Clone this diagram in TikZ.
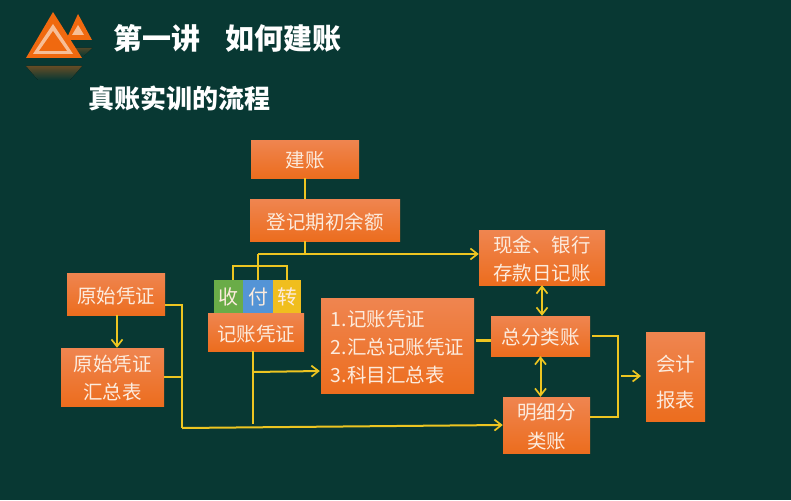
\documentclass[tikz,border=0pt]{standalone}
\usepackage{fontspec}
\setmainfont{Noto Sans CJK SC}
\usetikzlibrary{arrows.meta,calc}
\definecolor{bgc}{HTML}{083833}
\definecolor{boxtop}{HTML}{EF8550}
\definecolor{boxbot}{HTML}{EC6D1E}
\definecolor{lnc}{HTML}{EDC521}
\definecolor{txtc}{HTML}{FCEBDD}
\definecolor{logoc}{HTML}{F0690F}
\definecolor{logol}{HTML}{F7BE96}
\newcommand{\strutup}[1]{\rule{0pt}{#1pt}}
\tikzset{
 box/.style={top color=boxtop,bottom color=boxbot,text=txtc,inner sep=0pt,font=\fontsize{19.5}{28.5}\selectfont,align=center},
 tab/.style={inner sep=0pt,text=txtc,font=\fontsize{20}{24}\selectfont,minimum height=33pt},
 ln/.style={draw=lnc,line width=2pt},
 arr/.style={ln,-{Straight Barb[length=7pt,width=11pt,line width=1.7pt]}},
 dbl/.style={ln,{Straight Barb[length=7pt,width=11pt,line width=1.7pt]}-{Straight Barb[length=7pt,width=11pt,line width=1.7pt]}},
 ttl/.style={text=white,inner sep=0pt,anchor=west}
}
\begin{document}
\begin{tikzpicture}[x=1pt,y=-1pt]
\fill[bgc] (0,0) rectangle (791,500);
\useasboundingbox (0,0) rectangle (791,500);
% logo
\fill[top color=logoc!40!bgc,bottom color=bgc] (26,66) -- (82,66) -- (70,80) -- (38,80) -- cycle;
\fill[top color=logoc!30!bgc,bottom color=bgc] (74,48) -- (92,48) -- (84,56) -- (78,56) -- cycle;
\fill[logoc] (78,14) -- (92,40) -- (66,40) -- cycle;
\fill[logol] (78,25) -- (84,35) -- (72,35) -- cycle;
\fill[logoc] (53,12) -- (82,58) -- (26,58) -- cycle;
\fill[logol] (53,24) -- (73,54) -- (33,54) -- cycle;
\fill[logoc] (53,31) -- (67,51) -- (39,51) -- cycle;
% titles
\node[ttl,font=\fontsize{29}{29}\selectfont\bfseries] (t1) at (113,38) {第一讲};
\node[ttl,font=\fontsize{29}{29}\selectfont\bfseries] (t2) at (225,38) {如何建账};
\node[ttl,font=\fontsize{26}{26}\selectfont\bfseries] (t3) at (88,98) {真账实训的流程};
% boxes
\node[box,minimum width=108pt,minimum height=38pt] (jz) at (305,159) {\strutup{19}建账};
\node[box,minimum width=150pt,minimum height=42pt] (dj) at (325,220) {\strutup{21}登记期初余额};
\node[box,minimum width=126pt,minimum height=55pt] (xj) at (542,257.5) {\strutup{20}现金、银行\\存款日记账};
\node[box,minimum width=98pt,minimum height=42pt] (ys) at (116,294) {\strutup{20}原始凭证};
\node[box,minimum width=103pt,minimum height=58pt] (hz) at (112.5,377) {\strutup{19}原始凭证\\汇总表};
\node[tab,fill={rgb,255:red,106;green,172;blue,72},minimum width=29pt] (sh) at (228.5,296.5) {收};
\node[tab,fill={rgb,255:red,84;green,148;blue,214},minimum width=30pt] (fu) at (258,296.5) {付};
\node[tab,fill={rgb,255:red,240;green,190;blue,30},minimum width=28pt] (zh) at (287,296.5) {转};
\node[box,minimum width=96pt,minimum height=38pt] (jv) at (256,332) {\strutup{21}记账凭证};
\node[box,minimum width=153pt,minimum height=95pt,align=left,font=\fontsize{19.5}{28}\selectfont] (md) at (397.5,345.5) {\strutup{20}1.记账凭证\\2.汇总记账凭证\\3.科目汇总表};
\node[box,minimum width=99pt,minimum height=40pt] (zf) at (540.5,336) {\strutup{19.5}总分类账};
\node[box,minimum width=87pt,minimum height=56pt] (mx) at (546.5,425) {\strutup{20}明细分\\类账};
\node[box,minimum width=59pt,minimum height=89pt,font=\fontsize{19.5}{36}\selectfont] (kj) at (675.5,376.5) {\strutup{28}会计\\报表};
% junction coordinates
\coordinate (a1) at (305,254);
\coordinate (a2) at (258,254);
\coordinate (b1) at (233,266);
\coordinate (b2) at (287,266);
\coordinate (c1) at (182,305);
\coordinate (c2) at (182,428);
\coordinate (c3) at (182,377);
\coordinate (d1) at (253,351);
\coordinate (d2) at (253,424);
\coordinate (d3) at (253,372);
\coordinate (e1) at (618,336);
\coordinate (e2) at (618,417);
\coordinate (f1) at (621,376);
\coordinate (f2) at (641,376);
% connectors
\draw[ln,line width=2.5pt] (jz.south) -- (jz.south |- dj.north);
\draw[ln,line width=2.5pt] (jz.south |- dj.south) -- (a1);
\draw[arr] (a2) -- (a2 -| xj.west);
\draw[ln] (a2) -- (fu.north -| a2);
\draw[ln] (sh.north -| b1) -- (b1) -- (b2) -- (zh.north -| b2);
\draw[arr] (ys.south -| 117,0) -- (hz.north -| 117,0);
\draw[ln] (c1 -| ys.east) -- (c1) -- (c2);
\draw[ln] (c3 -| hz.east) -- (c3);
\draw[arr] (c2) -- (mx.west |- 0,425);
\draw[ln] (d1) -- (d2);
\draw[arr] (d3) -- ($(md.west |- 0,371)+(-1,0)$);
\draw[draw=lnc,line width=3pt] ($(md.east |- 0,340)+(2,0)$) -- ($(zf.west |- 0,340)$);
\draw[dbl] (xj.south) -- (zf.north -| xj.south);
\draw[dbl] (zf.south) -- (mx.north -| zf.south);
\draw[ln] ($(zf.east |- e1)+(2,0)$) -- (e1) -- (e2) -- (e2 -| mx.east);
\draw[arr] (f1) -- (f2);
\end{tikzpicture}
\end{document}
